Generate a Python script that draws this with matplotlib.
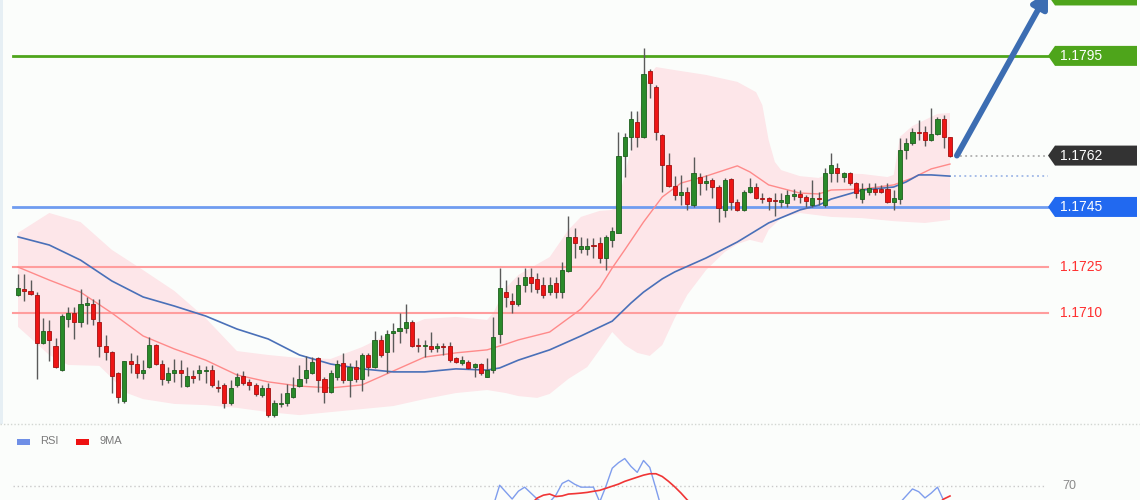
import matplotlib
matplotlib.use('Agg')
import matplotlib.pyplot as plt
import numpy as np
from matplotlib.patches import Polygon, Rectangle
from matplotlib.lines import Line2D
from matplotlib.transforms import blended_transform_factory

plt.rcParams['font.family'] = ['Liberation Sans', 'DejaVu Sans']

# ---------------- data ----------------
opens = [1.17159, 1.17178, 1.17172, 1.17159, 1.17000, 1.17039, 1.16990, 1.16910, 1.17079, 1.17099,
         1.17069, 1.17125, 1.17129, 1.17069, 1.16990, 1.16970, 1.16900, 1.16808, 1.16940, 1.16930,
         1.16900, 1.16920, 1.16993, 1.16930, 1.16877, 1.16900, 1.16910, 1.16857, 1.16890, 1.16900,
         1.16907, 1.16910, 1.16854, 1.16861, 1.16801, 1.16861, 1.16890, 1.16871, 1.16861, 1.16828,
         1.16851, 1.16761, 1.16798, 1.16801, 1.16821, 1.16857, 1.16884, 1.16900, 1.16950, 1.16881,
         1.16837, 1.16887, 1.16933, 1.16877, 1.16920, 1.16881, 1.16960, 1.16920, 1.17010, 1.16970,
         1.17033, 1.17039, 1.17049, 1.17069, 1.16993, 1.16990, 1.16990, 1.16983, 1.16990, 1.16990,
         1.16950, 1.16933, 1.16937, 1.16920, 1.16930, 1.16887, 1.16910, 1.17029, 1.17168, 1.17139,
         1.17129, 1.17192, 1.17218, 1.17212, 1.17192, 1.17168, 1.17198, 1.17168, 1.17238, 1.17351,
         1.17311, 1.17311, 1.17324, 1.17331, 1.17281, 1.17341, 1.17364, 1.17619, 1.17682, 1.17731,
         1.17682, 1.17900, 1.17847, 1.17688, 1.17589, 1.17519, 1.17490, 1.17499, 1.17456, 1.17549,
         1.17529, 1.17539, 1.17516, 1.17440, 1.17543, 1.17466, 1.17440, 1.17499, 1.17516, 1.17480,
         1.17480, 1.17473, 1.17466, 1.17463, 1.17486, 1.17493, 1.17483, 1.17456, 1.17480, 1.17456,
         1.17562, 1.17579, 1.17549, 1.17562, 1.17529, 1.17476, 1.17499, 1.17509, 1.17509, 1.17509,
         1.17466, 1.17476, 1.17639, 1.17662, 1.17698, 1.17698, 1.17672, 1.17691, 1.17741, 1.17682]

highs = [1.17228, 1.17228, 1.17208, 1.17168, 1.17082, 1.17076, 1.17016, 1.17096, 1.17119, 1.17119,
         1.17178, 1.17152, 1.17145, 1.17145, 1.17026, 1.16973, 1.16904, 1.16940, 1.16967, 1.16960,
         1.16943, 1.17020, 1.16996, 1.16943, 1.16920, 1.16947, 1.16943, 1.16920, 1.16910, 1.16927,
         1.16924, 1.16927, 1.16877, 1.16867, 1.16877, 1.16900, 1.16907, 1.16881, 1.16867, 1.16861,
         1.16867, 1.16811, 1.16834, 1.16864, 1.16887, 1.16927, 1.16957, 1.16953, 1.16953, 1.16887,
         1.16910, 1.16943, 1.16967, 1.16933, 1.16943, 1.16967, 1.16967, 1.17039, 1.17026, 1.17043,
         1.17066, 1.17099, 1.17129, 1.17076, 1.17016, 1.17010, 1.17036, 1.17000, 1.17000, 1.17003,
         1.16953, 1.16957, 1.16943, 1.16933, 1.16933, 1.16950, 1.17086, 1.17248, 1.17208, 1.17165,
         1.17218, 1.17248, 1.17248, 1.17231, 1.17218, 1.17218, 1.17218, 1.17268, 1.17420, 1.17380,
         1.17351, 1.17347, 1.17347, 1.17351, 1.17357, 1.17384, 1.17698, 1.17695, 1.17768, 1.17768,
         1.17976, 1.17907, 1.17854, 1.17691, 1.17629, 1.17552, 1.17556, 1.17516, 1.17615, 1.17562,
         1.17556, 1.17546, 1.17523, 1.17546, 1.17546, 1.17476, 1.17506, 1.17546, 1.17529, 1.17496,
         1.17483, 1.17496, 1.17496, 1.17506, 1.17509, 1.17506, 1.17490, 1.17539, 1.17499, 1.17579,
         1.17629, 1.17595, 1.17566, 1.17566, 1.17533, 1.17529, 1.17529, 1.17529, 1.17523, 1.17529,
         1.17506, 1.17678, 1.17678, 1.17711, 1.17738, 1.17718, 1.17778, 1.17748, 1.17754, 1.17682]

lows = [1.17155, 1.17139, 1.17159, 1.16881, 1.16996, 1.16940, 1.16917, 1.16907, 1.17053, 1.17013,
        1.17053, 1.17063, 1.17059, 1.16953, 1.16943, 1.16834, 1.16801, 1.16801, 1.16900, 1.16884,
        1.16881, 1.16917, 1.16927, 1.16861, 1.16867, 1.16871, 1.16854, 1.16854, 1.16867, 1.16877,
        1.16867, 1.16854, 1.16837, 1.16785, 1.16794, 1.16854, 1.16861, 1.16844, 1.16824, 1.16821,
        1.16755, 1.16755, 1.16788, 1.16791, 1.16818, 1.16854, 1.16867, 1.16897, 1.16837, 1.16801,
        1.16834, 1.16877, 1.16867, 1.16821, 1.16871, 1.16841, 1.16890, 1.16917, 1.16953, 1.16900,
        1.16970, 1.17000, 1.17033, 1.16986, 1.16970, 1.16953, 1.16970, 1.16970, 1.16960, 1.16937,
        1.16933, 1.16927, 1.16914, 1.16887, 1.16894, 1.16887, 1.16900, 1.17000, 1.17119, 1.17099,
        1.17122, 1.17168, 1.17168, 1.17165, 1.17149, 1.17159, 1.17149, 1.17149, 1.17235, 1.17281,
        1.17298, 1.17291, 1.17281, 1.17264, 1.17241, 1.17317, 1.17364, 1.17549, 1.17639, 1.17648,
        1.17678, 1.17811, 1.17672, 1.17499, 1.17516, 1.17473, 1.17456, 1.17440, 1.17450, 1.17490,
        1.17506, 1.17480, 1.17400, 1.17417, 1.17440, 1.17437, 1.17437, 1.17496, 1.17476, 1.17463,
        1.17440, 1.17420, 1.17450, 1.17450, 1.17473, 1.17463, 1.17450, 1.17450, 1.17456, 1.17450,
        1.17533, 1.17533, 1.17533, 1.17523, 1.17480, 1.17463, 1.17490, 1.17490, 1.17496, 1.17463,
        1.17440, 1.17460, 1.17609, 1.17655, 1.17672, 1.17652, 1.17668, 1.17688, 1.17645, 1.17615]

closes = [1.17182, 1.17172, 1.17162, 1.17000, 1.17039, 1.17010, 1.16920, 1.17089, 1.17099, 1.17069,
          1.17129, 1.17132, 1.17079, 1.16990, 1.16970, 1.16890, 1.16821, 1.16940, 1.16930, 1.16900,
          1.16910, 1.16993, 1.16930, 1.16881, 1.16900, 1.16910, 1.16900, 1.16890, 1.16884, 1.16910,
          1.16910, 1.16861, 1.16851, 1.16801, 1.16851, 1.16887, 1.16867, 1.16861, 1.16831, 1.16851,
          1.16761, 1.16801, 1.16801, 1.16834, 1.16851, 1.16881, 1.16910, 1.16937, 1.16877, 1.16837,
          1.16900, 1.16930, 1.16877, 1.16920, 1.16881, 1.16960, 1.16920, 1.17010, 1.16960, 1.17029,
          1.17039, 1.17049, 1.17069, 1.16990, 1.16990, 1.16993, 1.16980, 1.16990, 1.16986, 1.16943,
          1.16937, 1.16943, 1.16917, 1.16930, 1.16900, 1.16910, 1.17020, 1.17182, 1.17152, 1.17129,
          1.17192, 1.17218, 1.17198, 1.17178, 1.17159, 1.17192, 1.17168, 1.17241, 1.17351, 1.17331,
          1.17321, 1.17321, 1.17321, 1.17281, 1.17351, 1.17370, 1.17619, 1.17682, 1.17741, 1.17682,
          1.17890, 1.17860, 1.17698, 1.17589, 1.17519, 1.17490, 1.17499, 1.17460, 1.17562, 1.17529,
          1.17536, 1.17516, 1.17447, 1.17539, 1.17466, 1.17440, 1.17499, 1.17516, 1.17480, 1.17476,
          1.17470, 1.17470, 1.17473, 1.17490, 1.17493, 1.17483, 1.17470, 1.17480, 1.17476, 1.17562,
          1.17589, 1.17562, 1.17562, 1.17529, 1.17496, 1.17509, 1.17513, 1.17499, 1.17499, 1.17466,
          1.17480, 1.17639, 1.17662, 1.17698, 1.17695, 1.17672, 1.17691, 1.17741, 1.17682, 1.17619]

# Bollinger band (sampled at bar indices)
bb_up_idx = [0, 5, 10, 15, 20, 25, 30, 35, 40, 45, 50, 55, 60, 65, 70, 75, 76, 77, 78, 80,
             85, 88, 90, 93, 95, 96, 97, 98, 99, 100, 101, 102, 105, 110, 115, 118, 119, 120, 121, 122,
             125, 128, 130, 135, 139, 140, 141, 143, 145, 147, 149]
bb_upper = [1.17364, 1.17430, 1.17400, 1.17308, 1.17241, 1.17172, 1.17082, 1.16973, 1.16960, 1.16950,
            1.16947, 1.16986, 1.17036, 1.17079, 1.17086, 1.17076, 1.17099, 1.17142, 1.17182, 1.17225,
            1.17284, 1.17374, 1.17417, 1.17437, 1.17440, 1.17473, 1.17556, 1.17639, 1.17728, 1.17830,
            1.17887, 1.17913, 1.17903, 1.17887, 1.17864, 1.17830, 1.17787, 1.17672, 1.17599, 1.17572,
            1.17552, 1.17546, 1.17562, 1.17559, 1.17549, 1.17556, 1.17682, 1.17718, 1.17738, 1.17758,
            1.17761]
bb_lo_idx = [0, 2, 5, 8, 13, 15, 17, 20, 25, 30, 35, 40, 45, 50, 55, 60, 65, 70, 75, 78,
             80, 83, 85, 88, 91, 93, 95, 97, 99, 101, 103, 105, 107, 110, 113, 115, 117, 119, 120, 122,
             125, 130, 135, 140, 145, 149]
bb_lower = [1.17053, 1.17016, 1.16960, 1.16927, 1.16924, 1.16884, 1.16837, 1.16814, 1.16798, 1.16794,
            1.16785, 1.16771, 1.16761, 1.16771, 1.16781, 1.16791, 1.16814, 1.16834, 1.16844, 1.16834,
            1.16824, 1.16818, 1.16831, 1.16881, 1.16920, 1.16977, 1.17036, 1.16993, 1.16967, 1.16957,
            1.16993, 1.17082, 1.17159, 1.17241, 1.17301, 1.17327, 1.17341, 1.17331, 1.17374, 1.17413,
            1.17430, 1.17417, 1.17413, 1.17403, 1.17397, 1.17407]

# moving averages
ma_fast_idx = [0, 5, 10, 15, 20, 25, 30, 35, 40, 45, 50, 55, 60, 65, 70, 75, 78, 80, 85, 90,
               93, 95, 97, 100, 103, 106, 110, 115, 117, 120, 125, 128, 130, 135, 140, 143, 146, 149]
ma_fast = [1.17251, 1.17208, 1.17168, 1.17099, 1.17023, 1.16980, 1.16943, 1.16894, 1.16871, 1.16857,
           1.16851, 1.16861, 1.16907, 1.16953, 1.16967, 1.16977, 1.16996, 1.17010, 1.17036, 1.17112,
           1.17182, 1.17248, 1.17308, 1.17400, 1.17483, 1.17529, 1.17552, 1.17586, 1.17566, 1.17523,
           1.17496, 1.17493, 1.17506, 1.17509, 1.17523, 1.17546, 1.17576, 1.17592]
ma_slow_idx = [0, 5, 10, 15, 20, 25, 30, 35, 40, 45, 50, 55, 60, 65, 70, 75, 77, 80, 85, 90,
               95, 98, 100, 103, 105, 110, 115, 120, 125, 128, 130, 135, 140, 142, 144, 146, 149]
ma_slow = [1.17351, 1.17324, 1.17274, 1.17205, 1.17152, 1.17122, 1.17089, 1.17046, 1.17013, 1.16960,
           1.16930, 1.16914, 1.16904, 1.16904, 1.16914, 1.16910, 1.16917, 1.16943, 1.16977, 1.17023,
           1.17072, 1.17132, 1.17168, 1.17212, 1.17235, 1.17281, 1.17334, 1.17397, 1.17440, 1.17456,
           1.17476, 1.17506, 1.17516, 1.17533, 1.17556, 1.17556, 1.17552]

# key levels
resistance = 1.1795
support = 1.1745
level_1725 = 1.1725
level_1710 = 1.1710
last_price = 1.1762
target_price = 1.1815

# RSI panel (only the visible, above-60 parts of the panel)
rsi_idx = [76, 77, 78, 79, 80, 81, 82, 83, 84, 85, 86, 87, 88, 89, 90, 91, 92, 93, 94, 95,
           96, 97, 98, 99, 100, 101, 102, 103, None,
           141, 142, 143, 144, 145, 146, 147, 148, 149]
rsi_val = [56, 70.7, 65.7, 60.7, 66.4, 69.3, 65, 60.7, 57.9, 58.6, 63.6, 72, 74.3, 71.4, 69.3, 69.3, 69.3, 58.6, 70, 83,
           87, 90, 84.3, 80, 88.6, 83.6, 68, 52, None,
           58, 63, 68, 66, 61.5, 65, 69.3, 59.5, 55]
ma9_idx = [82, 83, 84, 85, 86, 87, 88, 89, 90, 91, 92, 93, 94, 95, 96, 97, 98, 99, 100, 101,
           102, 103, 104, 105, 106, 107, 108, None, 147, 148, 149]
ma9_val = [57, 61.4, 63.5, 64.3, 62.5, 63, 64.3, 64.6, 65, 65.5, 66.3, 67, 68.5, 70, 71.5, 73.5, 75, 76.5, 78, 79,
           79, 77, 73.5, 69.5, 65, 60, 56, None, 57, 60.7, 62.9]
rsi_level = 70

# ---------------- figure ----------------
W, H = 1140, 500
MAIN_H = 424
BAR = 6.255          # px per bar
X0 = 18              # px of first bar
PX = 0.0000331       # price per px
TOP = 1.18135        # price at top edge

bg = '#fbfdfb'
fig = plt.figure(figsize=(W / 100, H / 100), dpi=100)
fig.patch.set_facecolor(bg)

ax = fig.add_axes([0, (H - MAIN_H) / H, 1, MAIN_H / H])
ax.set_xlim(-X0 / BAR, (W - X0) / BAR)
ax.set_ylim(TOP - PX * MAIN_H, TOP)
ax.axis('off')

def fx(px):
    return px / W

# Bollinger fill
poly_x = list(bb_up_idx) + list(bb_lo_idx[::-1])
poly_y = list(bb_upper) + list(bb_lower[::-1])
ax.fill(poly_x, poly_y, color='#fde6e9', lw=0, zorder=1)

# horizontal levels
ax.axhline(resistance, xmin=fx(13), xmax=fx(1050), color='#4ea51b', lw=2, zorder=2)
ax.axhline(support, xmin=fx(13), xmax=fx(1050), color='#6f9cf0', lw=2, zorder=2)
for lv in (level_1725, level_1710):
    ax.axhline(lv, xmin=fx(13), xmax=fx(1048), color='#ff9d9d', lw=1.5, zorder=2)

# moving averages
ax.plot(ma_fast_idx, ma_fast, color='#ff8a8a', lw=1.0, zorder=3)
ax.plot(ma_slow_idx, ma_slow, color='#4a70b8', lw=1.2, zorder=3)

# candles
n = len(opens)
idx = np.arange(n)
o = np.array(opens); h = np.array(highs); l = np.array(lows); c = np.array(closes)
up = c >= o
ax.vlines(idx, l, h, color='#5a5a5a', lw=1, zorder=4)
body_bottom = np.minimum(o, c)
body_h = np.maximum(np.abs(c - o), PX * 1.2)
ax.bar(idx[up], body_h[up], bottom=body_bottom[up], width=0.66,
       color='#2a8a2a', edgecolor='#1d5f1d', lw=0.6, zorder=5)
ax.bar(idx[~up], body_h[~up], bottom=body_bottom[~up], width=0.66,
       color='#ee1515', edgecolor='#a31010', lw=0.6, zorder=5)

# dotted extensions
ax.hlines(last_price, n + 0.6, (1048 - X0) / BAR, colors='#a0a0a0',
          linestyles=(0, (1.2, 2.2)), lw=1.1, zorder=2)
ax.hlines(ma_slow[-1], n - 0.3, (1048 - X0) / BAR, colors='#8fabe3',
          linestyles=(0, (1.2, 2.2)), lw=1.1, zorder=2)

# arrow
ax.annotate('', xy=((1048 - X0) / BAR, target_price + 0.00012), xytext=(n + 0.1, last_price),
            arrowprops=dict(arrowstyle='-|>,head_length=0.9,head_width=0.5', lw=4.2,
                            color='#3c6db2', shrinkA=0, shrinkB=0),
            annotation_clip=False, zorder=6)

# price tags
tr = blended_transform_factory(ax.transAxes, ax.transData)
hh = PX * 10
def tag(price, face, txt=None):
    xs = [fx(1048), fx(1055), fx(1137), fx(1137), fx(1055)]
    ys = [price, price + hh, price + hh, price - hh, price - hh]
    ax.add_patch(Polygon(list(zip(xs, ys)), closed=True, transform=tr, facecolor=face,
                         edgecolor='none', clip_on=True, zorder=7))
    if txt:
        ax.text(fx(1060), price, txt, transform=tr, color='white', fontsize=10,
                va='center', ha='left', zorder=8)

tag(target_price, '#4ea51b')
tag(resistance, '#4ea51b', f'{resistance:.4f}')
tag(last_price, '#333333', f'{last_price:.4f}')
tag(support, '#2169f0', f'{support:.4f}')
for lv in (level_1725, level_1710):
    ax.text(fx(1060), lv, f'{lv:.4f}', transform=tr, color='#ff3030', fontsize=10,
            va='center', ha='left', zorder=8)

# left strip
fig.add_artist(Rectangle((0, (H - MAIN_H) / H), fx(3), MAIN_H / H, transform=fig.transFigure,
                         facecolor='#e6eff4', edgecolor='none'))

# separator
fig.add_artist(Line2D([0, 1], [(H - MAIN_H) / H, (H - MAIN_H) / H], transform=fig.transFigure,
                      color='#d2d6d2', lw=1, ls=(0, (1, 1.5))))

# RSI panel
rax = fig.add_axes([0, 0, 1, (H - MAIN_H) / H - 0.002])
rax.set_xlim(ax.get_xlim())
rax.set_ylim(60, 70 + (486 - MAIN_H) / 1.4)
rax.axis('off')
rax.axhline(rsi_level, xmin=fx(13), xmax=fx(1045), color='#c9c9c9', lw=1, ls=(0, (1, 2)))
rax.text(fx(1062), rsi_level, str(rsi_level), transform=blended_transform_factory(rax.transAxes, rax.transData),
         color='#8a8a8a', fontsize=9, va='center', ha='left')
ri = [np.nan if v is None else v for v in rsi_idx]
rv = [np.nan if v is None else v for v in rsi_val]
rax.plot(ri, rv, color='#7f9ded', lw=1.0)
mi = [np.nan if v is None else v for v in ma9_idx]
mv = [np.nan if v is None else v for v in ma9_val]
rax.plot(mi, mv, color='#f03535', lw=1.2)

# legend
def fy(py):
    return (H - py) / H
fig.add_artist(Rectangle((fx(17), fy(445)), fx(13), 6 / H, transform=fig.transFigure,
                         facecolor='#6f8fe6', edgecolor='none'))
fig.text(fx(40), fy(441.5), 'RSI', color='#7a7a7a', fontsize=8, va='center', ha='left')
fig.add_artist(Rectangle((fx(76), fy(445)), fx(13), 6 / H, transform=fig.transFigure,
                         facecolor='#ee1111', edgecolor='none'))
fig.text(fx(99), fy(441.5), '9MA', color='#7a7a7a', fontsize=8, va='center', ha='left')

fig.savefig('out.png', dpi=100, facecolor=bg)
